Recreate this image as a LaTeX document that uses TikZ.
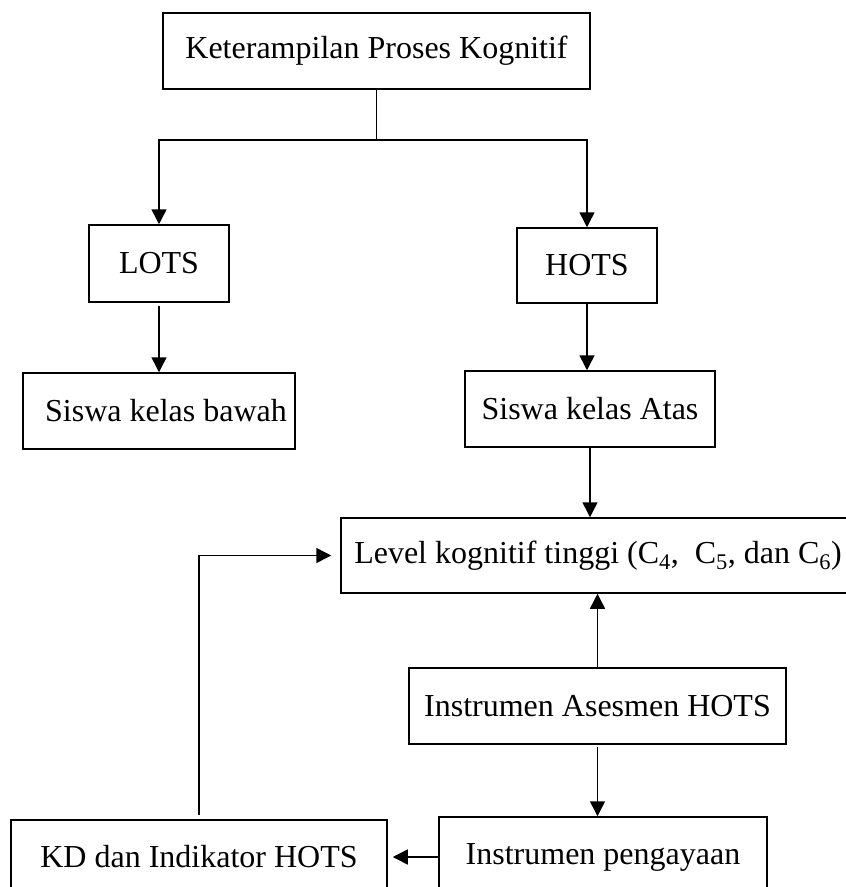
\documentclass[tikz,border=0pt]{standalone}
\usepackage{fontspec}
\setmainfont{Liberation Serif}
\usetikzlibrary{arrows.meta}

\begin{document}
\begin{tikzpicture}[>={Triangle[width=15pt,length=15pt]},x=1pt,y=-1pt,line width=1.5pt,
  kotak/.style={draw,inner sep=0pt,font=\fontsize{32}{38}\selectfont}]
  \clip (0,0) rectangle (846,887);
  \node[kotak,minimum width=427pt,minimum height=76pt] (kpk) at (376.5,51) {\raisebox{4pt}{Keterampilan Proses Kognitif}};
  \node[kotak,minimum width=140pt,minimum height=77pt] (lots) at (159,263.5) {LOTS};
  \node[kotak,minimum width=140pt,minimum height=75pt] (hots) at (587,265.5) {HOTS};
  \node[kotak,minimum width=272pt,minimum height=76pt] (bawah) at (159,411) {\hspace*{14pt}Siswa kelas bawah};
  \node[kotak,minimum width=250pt,minimum height=76pt] (atas) at (590,409) {Siswa kelas Atas};
  \node[kotak,minimum width=514pt,minimum height=75pt] (level) at (598,555.5)
    {Level kognitif tinggi (C\textsubscript{4},\ \ C\textsubscript{5}, dan C\textsubscript{6})};
  \node[kotak,minimum width=377pt,minimum height=76pt] (asesmen) at (597.5,706) {Instrumen Asesmen HOTS};
  \node[kotak,minimum width=328pt,minimum height=80pt] (pengayaan) at (603,857) {Instrumen pengayaan};
  \node[kotak,minimum width=376pt,minimum height=74pt] (kd) at (199,857) {KD dan Indikator HOTS};

  \draw (kpk.south) -- ++(0,50) coordinate (cabang);
  \foreach \n in {lots,hots}
    \draw[->] (cabang) -| (\n.north);
  \draw[->] ([yshift=-3pt]lots.south) -- (bawah.north);
  \draw[->] (hots.south) -- (hots.south |- atas.north);
  \draw[->] (atas.south) -- (atas.south |- level.north);
  \draw[->] (asesmen.north) -- (asesmen.north |- level.south);
  \draw[->] ([yshift=-2pt]asesmen.south) -- (asesmen.south |- pengayaan.north);
  \draw[->] (pengayaan.west) -- ([xshift=5pt]kd.east);
  \draw[->] ([yshift=4pt]kd.north) |- ([xshift=-9pt]level.west);
\end{tikzpicture}
\end{document}
